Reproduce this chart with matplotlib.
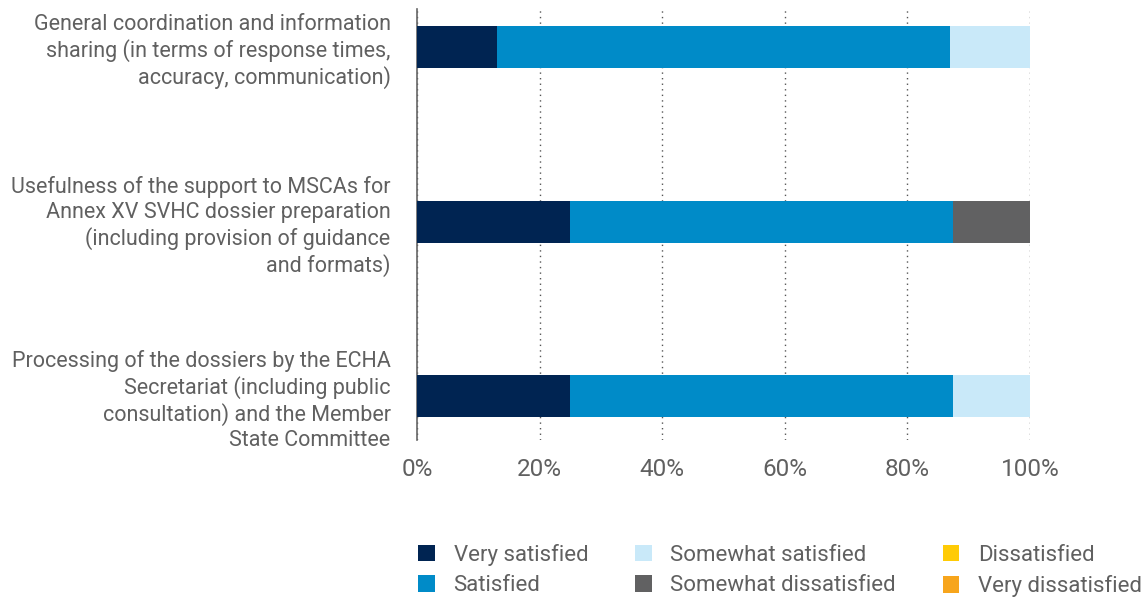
import matplotlib
matplotlib.use("Agg")
import matplotlib.pyplot as plt
from matplotlib.patches import Patch

categories = [
    "General coordination and information\nsharing (in terms of response times,\naccuracy, communication)",
    "Usefulness of the support to MSCAs for\nAnnex XV SVHC dossier preparation\n(including provision of guidance\nand formats)",
    "Processing of the dossiers by the ECHA\nSecretariat (including public\nconsultation) and the Member\nState Committee",
]
series_names = ["Very satisfied", "Satisfied", "Somewhat satisfied",
                "Somewhat dissatisfied", "Dissatisfied", "Very dissatisfied"]
very_satisfied = [13.0, 25.0, 25.0]
satisfied = [74.0, 62.5, 62.5]
somewhat_satisfied = [13.0, 0.0, 12.5]
somewhat_dissatisfied = [0.0, 12.5, 0.0]
dissatisfied = [0.0, 0.0, 0.0]
very_dissatisfied = [0.0, 0.0, 0.0]
xticks = [0, 20, 40, 60, 80, 100]
xtick_labels = ["0%", "20%", "40%", "60%", "80%", "100%"]

colors = ["#002452", "#008BC8", "#C9E9F9", "#616162", "#FFCB05", "#F7A51C"]
series = [very_satisfied, satisfied, somewhat_satisfied,
          somewhat_dissatisfied, dissatisfied, very_dissatisfied]

plt.rcParams['font.family'] = ['Roboto', 'DejaVu Sans']
text_color = "#606060"

fig = plt.figure(figsize=(11.48, 5.97), dpi=100)
ax = fig.add_axes([417/1148, 1 - 440/597, (1030-417)/1148, (440-9)/597])

ypos = list(range(len(categories)))
left = [0.0] * len(categories)
for vals, col in zip(series, colors):
    ax.barh(ypos, vals, left=left, height=0.24, color=col, zorder=3)
    left = [l + v for l, v in zip(left, vals)]

ax.set_xlim(0, 100)
ax.set_ylim(2.25, -0.22)
ax.set_xticks(xticks)
ax.set_xticklabels(xtick_labels, fontsize=17.5, color=text_color)
ax.set_yticks(ypos)
ax.set_yticklabels(categories, fontsize=15.5, color=text_color,
                   linespacing=1.22)
ax.tick_params(axis='both', length=0)
ax.tick_params(axis='y', pad=19)
ax.tick_params(axis='x', pad=13)
for s in ['top', 'right', 'bottom']:
    ax.spines[s].set_visible(False)
ax.spines['left'].set_color("#666666")
ax.spines['left'].set_linewidth(1.2)
ax.xaxis.grid(True, linestyle=(0, (1, 3)), color="#555555", linewidth=1.0, zorder=0)
ax.set_axisbelow(True)

handles = [Patch(facecolor=c, edgecolor='none') for c in colors]
fig.legend(handles, series_names, loc='upper left',
           bbox_to_anchor=(418/1148, 1 - 544/597), ncol=3, frameon=False,
           borderpad=0, borderaxespad=0,
           handlelength=0.75, handleheight=0.75, handletextpad=0.85,
           columnspacing=2.1, labelspacing=0.42, labelcolor=text_color,
           prop={'size': 16})

fig.savefig("out.png", dpi=100)
